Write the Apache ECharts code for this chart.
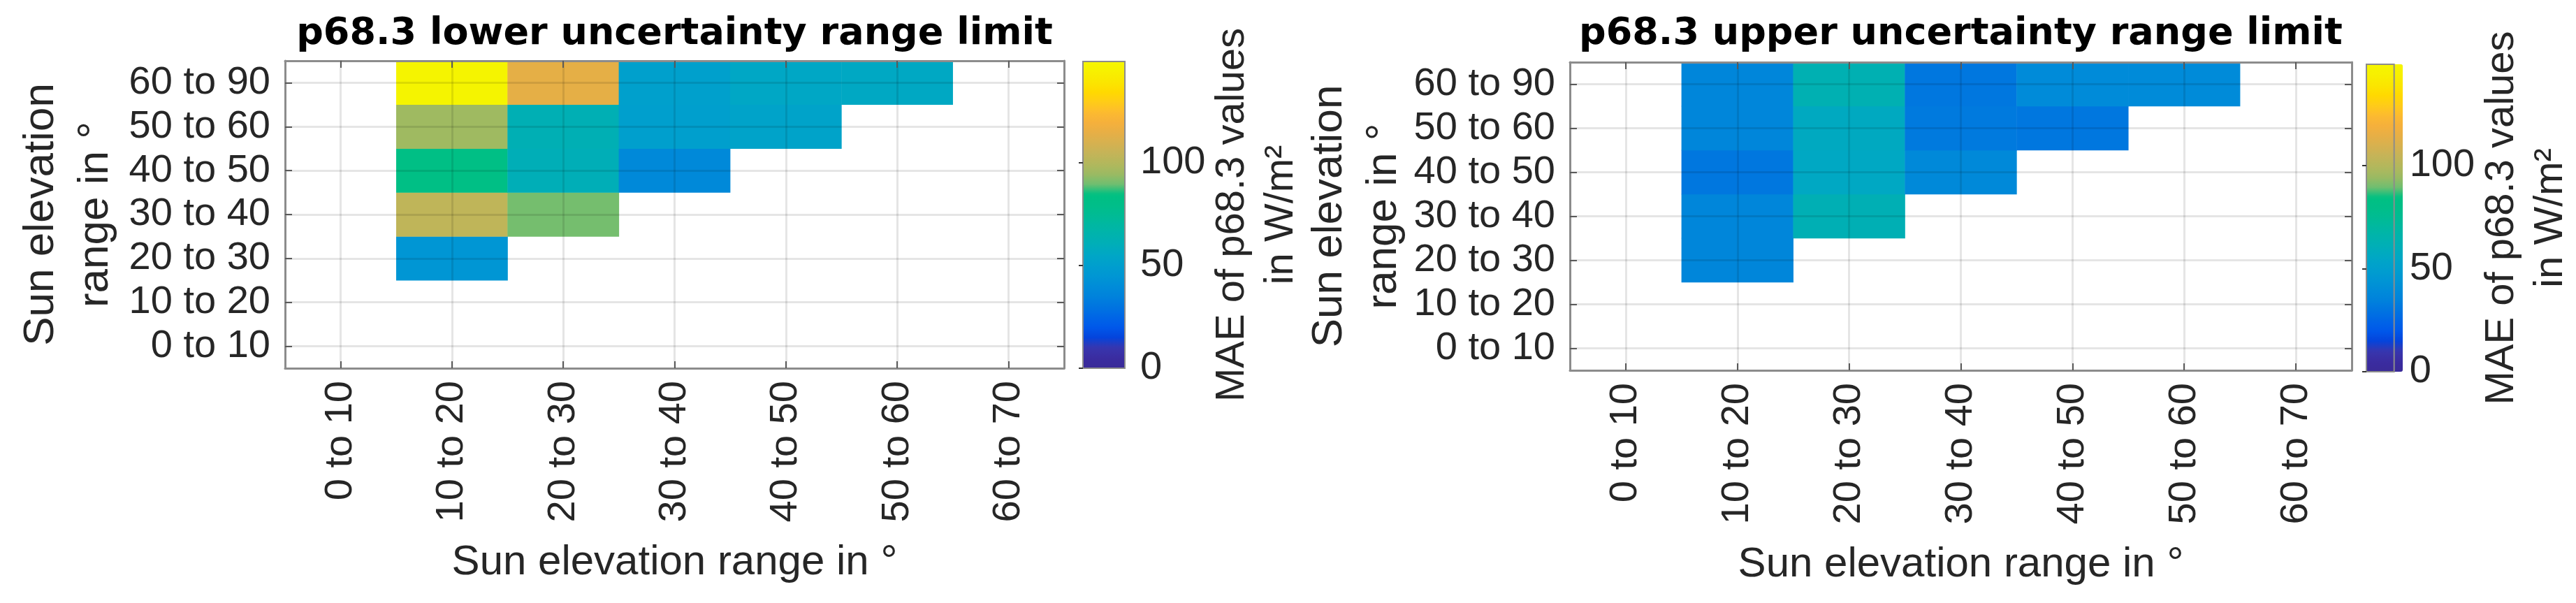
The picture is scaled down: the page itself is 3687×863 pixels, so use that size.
<!DOCTYPE html>
<html><head><meta charset="utf-8">
<script src="https://cdn.jsdelivr.net/npm/echarts@6/dist/echarts.min.js"></script>
<style>html,body{margin:0;padding:0;background:#fff}#c{width:3687px;height:863px}</style>
</head><body><div id="c"></div>
<script>
// ---------- data ----------
const xCategories = ['0 to 10','10 to 20','20 to 30','30 to 40','40 to 50','50 to 60','60 to 70'];
const yCategories = ['0 to 10','10 to 20','20 to 30','30 to 40','40 to 50','50 to 60','60 to 90'];
// rows follow yCategories (bottom to top), columns follow xCategories; null = no value
const lowerMAE = [
  [null, null, null, null, null, null, null],
  [null, null, null, null, null, null, null],
  [null,   45, null, null, null, null, null],
  [null,  103,   90, null, null, null, null],
  [null,   82,   61,   38, null, null, null],
  [null,   95,   62,   50,   53, null, null],
  [null,  148,  114,   51,   55,   56, null]
];
const upperMAE = [
  [null, null, null, null, null, null, null],
  [null, null, null, null, null, null, null],
  [null,   37, null, null, null, null, null],
  [null,   37,   62, null, null, null, null],
  [null,   31,   56,   38, null, null, null],
  [null,   37,   57,   32,   31, null, null],
  [null,   37,   63,   31,   39,   39, null]
];
const panelTitles = ['p68.3 lower uncertainty range limit', 'p68.3 upper uncertainty range limit'];
const xAxisName = 'Sun elevation range in °';
const yAxisName = 'Sun elevation\nrange in °';
const colorbarName = 'MAE of p68.3 values\nin W/m²';
const colorbarMin = 0;
const colorbarMax = 149;
const colorbarStep = 50;
const colormap = ['#3A2A98','#3A2CA0','#3836AE','#0444DC','#0058EA','#0066E6','#0074E0','#0082DC',
  '#008CD8','#0096D4','#009ECE','#00A6C6','#00ADBA','#00B2AE','#00B7A2','#00BB94','#00BE88',
  '#00C082','#70BE70','#9CBA62','#B2B75C','#C4B458','#D6B150','#E6AF46','#F5B03C','#FCBA30',
  '#FFCC18','#FFD900','#FBE600','#F7F000','#F5F500'];

// ---------- helpers ----------
function toCells(m) {
  const out = [];
  m.forEach((row, yi) => row.forEach((v, xi) => { if (v !== null) out.push([xi, yi, v]); }));
  return out;
}
const FONT = 'Arial, "Liberation Sans", sans-serif';
const TFONT = '"DejaVu Sans", Arial, sans-serif';
const TXT = '#262626';
const BOX = '#8c8c8c';
const TICK = '#5a5a5a';
const GRIDC = 'rgba(0,0,0,0.10)';

const P = [
  {grid:{left:408, top:87, width:1115, height:440}, cb:{left:1550, top:88, width:60, height:439}, yGap:232, cbGap:102},
  {grid:{left:2247, top:89, width:1119, height:441}, cb:{left:3387, top:92, width:52, height:440}, yGap:214, cbGap:103}
];

const grid = [], xAxis = [], yAxis = [], series = [], visualMap = [], title = [];
P.forEach((p, i) => {
  const g = grid.length;
  grid.push(Object.assign({containLabel:false}, p.grid));
  grid.push(Object.assign({show:true, borderColor:BOX, borderWidth:2, backgroundColor:'transparent', z:5}, p.cb));
  const xb = xAxis.length, yb = yAxis.length;
  xAxis.push({
    type:'category', gridIndex:g, position:'bottom', data:xCategories, z:5,
    axisLine:{show:true, lineStyle:{color:BOX, width:3}},
    axisTick:{show:true, inside:true, alignWithLabel:true, length:10, lineStyle:{color:TICK, width:2}},
    axisLabel:{rotate:90, margin:18, interval:0, fontSize:56, fontFamily:FONT, color:TXT, hideOverlap:false},
    splitLine:{show:true, alignWithLabel:true, lineStyle:{color:GRIDC, width:3}},
    name:xAxisName, nameLocation:'middle', nameGap:248,
    nameTextStyle:{fontSize:60, lineHeight:60, fontFamily:FONT, color:TXT}
  });
  xAxis.push({
    type:'category', gridIndex:g, position:'top', data:xCategories, z:5,
    axisLine:{show:true, lineStyle:{color:BOX, width:3}},
    axisTick:{show:true, inside:true, alignWithLabel:true, length:10, lineStyle:{color:TICK, width:2}},
    axisLabel:{show:false}, splitLine:{show:false}
  });
  yAxis.push({
    type:'category', gridIndex:g, position:'left', data:yCategories, z:5,
    axisLine:{show:true, lineStyle:{color:BOX, width:3}},
    axisTick:{show:true, inside:true, alignWithLabel:true, length:10, lineStyle:{color:TICK, width:2}},
    axisLabel:{margin:21, interval:0, fontSize:56, fontFamily:FONT, color:TXT, hideOverlap:false},
    splitLine:{show:true, alignWithLabel:true, lineStyle:{color:GRIDC, width:3}},
    name:yAxisName, nameLocation:'middle', nameGap:p.yGap, nameRotate:90,
    nameTextStyle:{fontSize:62, lineHeight:78, fontFamily:FONT, color:TXT, align:'center'}
  });
  yAxis.push({
    type:'category', gridIndex:g, position:'right', data:yCategories, z:5,
    axisLine:{show:true, lineStyle:{color:BOX, width:3}},
    axisTick:{show:true, inside:true, alignWithLabel:true, length:10, lineStyle:{color:TICK, width:2}},
    axisLabel:{show:false}, splitLine:{show:false}
  });
  // colorbar axes
  xAxis.push({type:'value', gridIndex:g+1, show:false, min:0, max:1});
  yAxis.push({
    type:'value', gridIndex:g+1, position:'right', min:colorbarMin, max:colorbarMax, interval:colorbarStep, z:6,
    axisLine:{show:false},
    axisTick:{show:true, inside:true, length:6, lineStyle:{color:'#333', width:2}},
    axisLabel:{margin:22, fontSize:56, fontFamily:FONT, color:TXT, showMaxLabel:false},
    splitLine:{show:false},
    name:colorbarName, nameLocation:'middle', nameGap:p.cbGap, nameRotate:90,
    nameTextStyle:{fontSize:58, lineHeight:70, fontFamily:FONT, color:TXT, align:'center'}
  });
  series.push({
    type:'heatmap', xAxisIndex:xb, yAxisIndex:yb, data:toCells(i === 0 ? lowerMAE : upperMAE),
    itemStyle:{borderWidth:0}, emphasis:{disabled:true}, progressive:0, z:2
  });
  visualMap.push({
    type:'continuous', seriesIndex:i, min:colorbarMin, max:colorbarMax,
    left:p.cb.left, top:p.cb.top, itemWidth:p.cb.width, itemHeight:p.cb.height,
    calculable:false, padding:0, hoverLink:false, text:null, z:1,
    inRange:{color:colormap}
  });
  title.push({
    text:panelTitles[i], left:p.grid.left + p.grid.width / 2, top:22, padding:0,
    textAlign:'center', textVerticalAlign:'top',
    textStyle:{fontSize:54, fontWeight:'bold', fontFamily:TFONT, color:'#000'}
  });
});

const chart = echarts.init(document.getElementById('c'), null, {renderer:'canvas'});
chart.setOption({animation:false, backgroundColor:'#fff', title, grid, xAxis, yAxis, visualMap, series});
</script>
</body></html>
